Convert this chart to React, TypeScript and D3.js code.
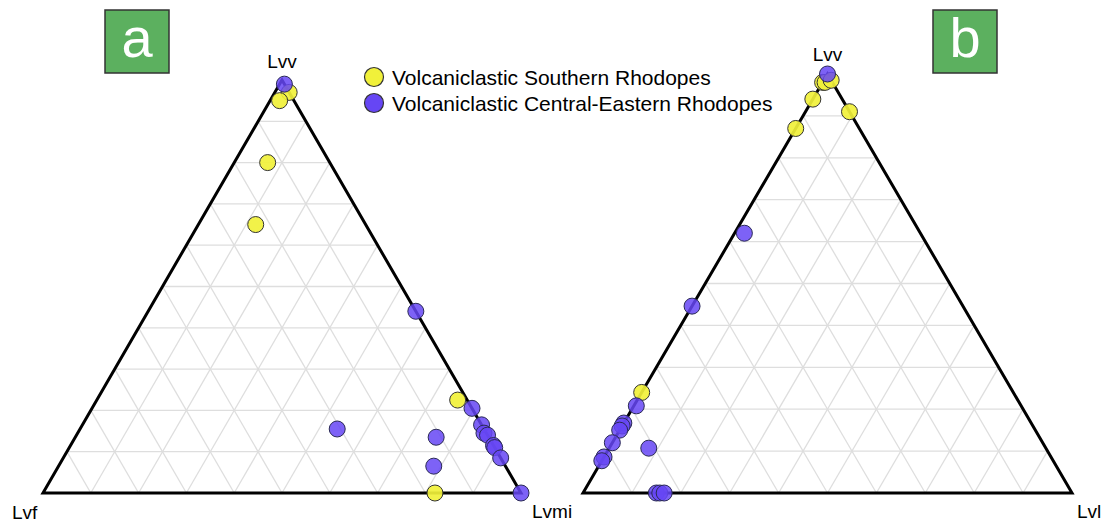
import React from "react";
import * as d3 from "d3";

// ternary data, percentages [top, left, right]
// panel a: [Lvv, Lvf, Lvmi]
const aSouthern = [
  [97, 0, 3],
  [95, 3, 2],
  [80, 13, 7],
  [65, 23, 12],
  [22.5, 2, 75.5],
  [0, 18, 82],
];
const aCentral = [
  [99, 0, 1],
  [44, 0, 56],
  [15.5, 30.7, 53.8],
  [13.5, 11, 75.5],
  [6.5, 15, 78.5],
  [20.5, 0, 79.5],
  [16.5, 0, 83.5],
  [14.5, 0.5, 85],
  [14, 0, 86],
  [11.5, 0, 88.5],
  [11, 0, 89],
  [8.5, 0, 91.5],
  [0, 0, 100],
];
// panel b: [Lvv, Lvmi, Lvl]
const bSouthern = [
  [24, 76, 0],
  [87, 13, 0],
  [94, 6, 0],
  [98, 2, 0],
  [98, 1.5, 0.5],
  [98.5, 0, 1.5],
  [91, 0, 9],
];
const bCentral = [
  [100, 0, 0],
  [62, 36, 2],
  [44.6, 55.4, 0],
  [20.8, 78.7, 0.5],
  [16.7, 83.3, 0],
  [16, 84, 0],
  [15, 85, 0],
  [12, 88, 0],
  [8.6, 91.4, 0],
  [7.7, 92.3, 0],
  [10.7, 81.2, 8.1],
  [0, 85, 15],
  [0, 84.3, 15.7],
  [0, 83.4, 16.6],
];

// b shares its left corner label with a's "Lvmi"
const aLabels = ["Lvv", "Lvf", "Lvmi"];
const bLabels = ["Lvv", "", "Lvl"];
const seriesNames = [
  "Volcaniclastic Southern Rhodopes",
  "Volcaniclastic Central-Eastern Rhodopes",
];
const gridSteps = d3.range(1, 10).map((i) => i / 10);

const YELLOW = "#f1f13a";
const PURPLE = "#6646f4";

type Panel = {
  x0: number;
  x1: number;
  top: number;
  bottom: number;
};

const Ternary = ({
  p,
  labels,
  southern,
  central,
  letter,
  box,
  topLabelY,
  rightLabelDx,
}: {
  p: Panel;
  labels: string[];
  southern: number[][];
  central: number[][];
  letter: string;
  box: number[];
  topLabelY: number;
  rightLabelDx: number;
}) => {
  const xScale = d3.scaleLinear().domain([0, 1]).range([p.x0, p.x1]);
  const yScale = d3.scaleLinear().domain([0, 1]).range([p.bottom, p.top]);
  // t = top fraction, r = right fraction
  const proj = (t: number, r: number) => [xScale(r + t / 2), yScale(t)];
  const pt = (d: number[]) => {
    const s = d[0] + d[1] + d[2];
    return proj(d[0] / s, d[2] / s);
  };
  const line = d3.line();

  const grid: [number, number][][] = [];
  gridSteps.forEach((f) => {
    grid.push([proj(f, 0), proj(f, 1 - f)] as any);
    grid.push([proj(0, f), proj(1 - f, f)] as any);
    grid.push([proj(0, 1 - f), proj(1 - f, 0)] as any);
  });

  const tri = [proj(0, 0), proj(0, 1), proj(1, 0)] as [number, number][];

  return (
    <g>
      {grid.map((g, i) => (
        <path key={i} d={line(g) || ""} stroke="#dedede" strokeWidth={1.3} fill="none" />
      ))}
      <path
        d={(line(tri) || "") + "Z"}
        fill="none"
        stroke="#000"
        strokeWidth={3}
        strokeLinejoin="miter"
      />
      {southern.map((d, i) => {
        const [x, y] = pt(d);
        return (
          <circle key={"s" + i} cx={x} cy={y} r={8} fill={YELLOW} fillOpacity={0.92} stroke="#333" strokeWidth={1} />
        );
      })}
      {central.map((d, i) => {
        const [x, y] = pt(d);
        return (
          <circle key={"c" + i} cx={x} cy={y} r={8} fill={PURPLE} fillOpacity={0.85} stroke="#2a2a55" strokeWidth={1} />
        );
      })}
      <text x={xScale(0.5)} y={topLabelY} textAnchor="middle" fontSize={19}>
        {labels[0]}
      </text>
      {labels[1] && (
        <text x={xScale(0) - 31} y={519} fontSize={19}>
          {labels[1]}
        </text>
      )}
      <text x={xScale(1) + rightLabelDx} y={518} fontSize={19}>
        {labels[2]}
      </text>
      <rect x={box[0]} y={box[1]} width={box[2]} height={box[3]} fill="#5cb05f" stroke="#333" strokeWidth={1.5} />
      <text
        x={box[0] + box[2] / 2}
        y={box[1] + box[3] / 2 + 15}
        textAnchor="middle"
        fontSize={56}
        fill="#fff"
      >
        {letter}
      </text>
    </g>
  );
};

const App = () => {
  return (
    <svg
      width={1109}
      height={524}
      style={{ position: "absolute", left: 0, top: 0, background: "#fff" }}
      fontFamily="'Liberation Sans', Arial, sans-serif"
    >
      <Ternary
        p={{ x0: 43, x1: 521, top: 80, bottom: 493 }}
        labels={aLabels}
        southern={aSouthern}
        central={aCentral}
        letter="a"
        box={[105, 10, 64, 63]}
        topLabelY={68}
        rightLabelDx={11}
      />
      <Ternary
        p={{ x0: 583, x1: 1072, top: 74, bottom: 493 }}
        labels={bLabels}
        southern={bSouthern}
        central={bCentral}
        letter="b"
        box={[933, 10, 64, 63]}
        topLabelY={61}
        rightLabelDx={5}
      />
      <g>
        {seriesNames.map((n, i) => (
          <g key={n} transform={`translate(374,${77 + i * 26})`}>
            <circle r={9.5} fill={i === 0 ? YELLOW : PURPLE} stroke="#333" strokeWidth={1.2} />
            <text x={18} y={7.5} fontSize={21}>
              {n}
            </text>
          </g>
        ))}
      </g>
    </svg>
  );
};

export default App;
